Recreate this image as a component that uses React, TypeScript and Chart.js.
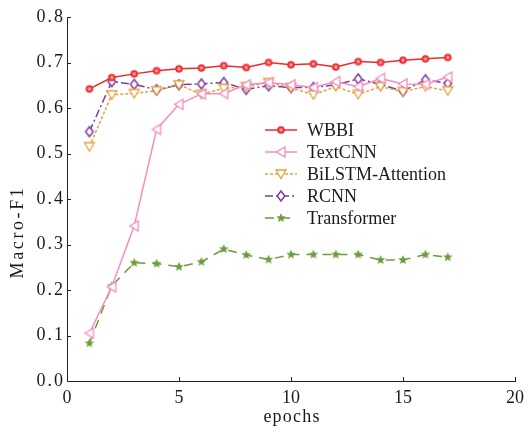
import React, { useEffect, useRef } from "react";
import { Chart, registerables } from "chart.js";

Chart.register(...registerables);

// Training curves: Macro-F1 per epoch for each model
const epochs = [1, 2, 3, 4, 5, 6, 7, 8, 9, 10, 11, 12, 13, 14, 15, 16, 17];
const wbbi = [0.642, 0.667, 0.675, 0.682, 0.686, 0.688, 0.693, 0.689, 0.7, 0.695, 0.697, 0.69, 0.702, 0.7, 0.705, 0.708, 0.711];
const textCnn = [0.105, 0.207, 0.341, 0.553, 0.608, 0.631, 0.632, 0.651, 0.656, 0.651, 0.645, 0.658, 0.647, 0.665, 0.653, 0.652, 0.668];
const bilstmAttention = [0.515, 0.629, 0.632, 0.638, 0.651, 0.63, 0.643, 0.647, 0.656, 0.645, 0.629, 0.647, 0.63, 0.647, 0.636, 0.647, 0.638];
const rcnn = [0.548, 0.658, 0.652, 0.64, 0.651, 0.653, 0.656, 0.641, 0.649, 0.645, 0.645, 0.651, 0.664, 0.652, 0.637, 0.662, 0.654];
const transformer = [0.083, 0.209, 0.26, 0.258, 0.251, 0.262, 0.29, 0.277, 0.267, 0.278, 0.278, 0.278, 0.278, 0.266, 0.266, 0.278, 0.272];

const seriesNames = ["WBBI", "TextCNN", "BiLSTM-Attention", "RCNN", "Transformer"];
const xTicks = [0, 5, 10, 15, 20];
const xTitle = "epochs";
const yTitle = "Macro-F1";

const FONT = "'Liberation Serif', 'Times New Roman', serif";
const TEXT = "#1a1a1a";

type MarkerKind = "hexCircle" | "triLeft" | "triDown" | "diamond" | "star";

function makeMarker(kind: MarkerKind, color: string): HTMLCanvasElement {
  const size = 14;
  const c = document.createElement("canvas");
  c.width = size;
  c.height = size;
  const ctx = c.getContext("2d")!;
  const m = size / 2;
  ctx.strokeStyle = color;
  ctx.fillStyle = color;
  ctx.lineWidth = 1.3;
  if (kind === "hexCircle") {
    ctx.beginPath();
    ctx.arc(m, m, 3.8, 0, Math.PI * 2);
    ctx.fill();
    ctx.strokeStyle = "rgba(255,200,200,0.9)";
    ctx.lineWidth = 0.8;
    for (let i = 0; i < 3; i++) {
      const a = (Math.PI / 3) * i + Math.PI / 2;
      ctx.beginPath();
      ctx.moveTo(m + Math.cos(a) * 2.2, m + Math.sin(a) * 2.2);
      ctx.lineTo(m - Math.cos(a) * 2.2, m - Math.sin(a) * 2.2);
      ctx.stroke();
    }
  } else if (kind === "triLeft") {
    ctx.beginPath();
    ctx.moveTo(m - 4.5, m);
    ctx.lineTo(m + 4, m - 5);
    ctx.lineTo(m + 4, m + 5);
    ctx.closePath();
    ctx.fillStyle = "#fff";
    ctx.fill();
    ctx.stroke();
  } else if (kind === "triDown") {
    ctx.beginPath();
    ctx.moveTo(m - 5, m - 4);
    ctx.lineTo(m + 5, m - 4);
    ctx.lineTo(m, m + 4.5);
    ctx.closePath();
    ctx.fillStyle = "#fff";
    ctx.fill();
    ctx.stroke();
  } else if (kind === "diamond") {
    ctx.beginPath();
    ctx.moveTo(m, m - 5);
    ctx.lineTo(m + 3.8, m);
    ctx.lineTo(m, m + 5);
    ctx.lineTo(m - 3.8, m);
    ctx.closePath();
    ctx.fillStyle = "#fff";
    ctx.fill();
    ctx.lineWidth = 1.5;
    ctx.stroke();
  } else {
    ctx.beginPath();
    for (let i = 0; i < 10; i++) {
      const r = i % 2 === 0 ? 5 : 2.2;
      const a = -Math.PI / 2 + (Math.PI / 5) * i;
      const px = m + Math.cos(a) * r;
      const py = m + Math.sin(a) * r;
      if (i === 0) ctx.moveTo(px, py);
      else ctx.lineTo(px, py);
    }
    ctx.closePath();
    ctx.fill();
  }
  return c;
}

// draw a scale's tick labels with a little extra letter spacing
function spacedLabels(scale: any, spacing: string) {
  if (scale.__spaced) return;
  scale.__spaced = true;
  const orig = scale.drawLabels.bind(scale);
  scale.drawLabels = (area: any) => {
    const ctx = scale.ctx as any;
    const prev = ctx.letterSpacing;
    ctx.letterSpacing = spacing;
    orig(area);
    ctx.letterSpacing = prev;
  };
}

export default function App() {
  const canvasRef = useRef<HTMLCanvasElement | null>(null);

  useEffect(() => {
    document.body.style.margin = "0";
    const canvas = canvasRef.current;
    if (!canvas) return;

    const styles = [
      { color: "#ec2b2f", dash: [] as number[], width: 1.5, marker: "hexCircle" as MarkerKind },
      { color: "#f48dc0", dash: [] as number[], width: 1.5, marker: "triLeft" as MarkerKind },
      { color: "#e3a23c", dash: [3, 2], width: 1.5, marker: "triDown" as MarkerKind },
      { color: "#7b3d9c", dash: [8, 3, 2, 3], width: 1.5, marker: "diamond" as MarkerKind },
      { color: "#6c9d3a", dash: [9, 7], width: 1.5, marker: "star" as MarkerKind },
    ];
    const values = [wbbi, textCnn, bilstmAttention, rcnn, transformer];

    const datasets = values.map((vals, i) => ({
      label: seriesNames[i],
      data: epochs.map((e, j) => ({ x: e, y: vals[j] })),
      borderColor: styles[i].color,
      backgroundColor: styles[i].color,
      borderWidth: styles[i].width,
      borderDash: styles[i].dash,
      pointStyle: makeMarker(styles[i].marker, styles[i].color),
      pointRadius: 5,
      tension: 0,
      fill: false,
    }));

    // inward tick marks on both axes
    const innerTicks = {
      id: "innerTicks",
      afterDraw(chart: any) {
        const { ctx, chartArea, scales } = chart;
        ctx.save();
        ctx.strokeStyle = "#222";
        ctx.lineWidth = 1;
        const ys = scales.y;
        for (let v = 0; v <= 8; v++) {
          const py = Math.round(ys.getPixelForValue(v / 10)) + 0.5;
          ctx.beginPath();
          ctx.moveTo(chartArea.left, py);
          ctx.lineTo(chartArea.left + 4, py);
          ctx.stroke();
        }
        const xs = scales.x;
        xTicks.forEach((t) => {
          const px = Math.round(xs.getPixelForValue(t)) + 0.5;
          ctx.beginPath();
          ctx.moveTo(px, chartArea.bottom);
          ctx.lineTo(px, chartArea.bottom - 4);
          ctx.stroke();
        });
        ctx.restore();
      },
    };

    // axis titles, slightly letter-spaced
    const axisTitles = {
      id: "axisTitles",
      afterDraw(chart: any) {
        const { ctx, chartArea } = chart;
        ctx.save();
        ctx.fillStyle = TEXT;
        ctx.font = `18px ${FONT}`;
        ctx.textAlign = "center";
        ctx.textBaseline = "middle";
        (ctx as any).letterSpacing = "1.2px";
        ctx.fillText(xTitle, (chartArea.left + chartArea.right) / 2 + 1, chartArea.bottom + 36);
        (ctx as any).letterSpacing = "2.6px";
        ctx.translate(18, chartArea.top + 215);
        ctx.rotate(-Math.PI / 2);
        ctx.fillText(yTitle, 0, 0);
        ctx.restore();
      },
    };

    // legend with line + marker samples inside the plot area
    const lineLegend = {
      id: "lineLegend",
      afterDraw(chart: any) {
        const { ctx, chartArea } = chart;
        const x0 = chartArea.left + 198;
        const y0 = chartArea.top + 113;
        const rowH = 22;
        ctx.save();
        chart.data.datasets.forEach((ds: any, i: number) => {
          const y = y0 + i * rowH;
          ctx.strokeStyle = ds.borderColor;
          ctx.lineWidth = ds.borderWidth;
          ctx.setLineDash(ds.borderDash || []);
          ctx.beginPath();
          ctx.moveTo(x0, y);
          ctx.lineTo(x0 + 32, y);
          ctx.stroke();
          ctx.setLineDash([]);
          const img = ds.pointStyle as HTMLCanvasElement;
          ctx.drawImage(img, x0 + 16 - img.width / 2, y - img.height / 2);
          ctx.fillStyle = TEXT;
          ctx.font = `18px ${FONT}`;
          ctx.textAlign = "left";
          ctx.textBaseline = "middle";
          ctx.fillText(ds.label, x0 + 42, y + 1);
        });
        ctx.restore();
      },
    };

    const chart = new Chart(canvas, {
      type: "line",
      data: { datasets },
      options: {
        animation: false,
        responsive: false,
        maintainAspectRatio: false,
        layout: { padding: { top: 17, right: 13, left: 0, bottom: 0 } },
        plugins: {
          legend: { display: false },
          tooltip: { enabled: false },
        },
        scales: {
          x: {
            type: "linear",
            min: 0,
            max: 20,
            afterFit(scale: any) {
              scale.height = 51;
            },
            afterBuildTicks(scale: any) {
              scale.ticks = xTicks.map((v) => ({ value: v }));
            },
            grid: { display: true, drawOnChartArea: false, drawTicks: false },
            border: { display: true, color: "#222", width: 1 },
            ticks: {
              padding: 6,
              color: TEXT,
              font: { family: FONT, size: 18 },
              maxRotation: 0,
            },
            title: { display: false },
          },
          y: {
            type: "linear",
            min: 0,
            max: 0.8,
            afterFit(scale: any) {
              scale.width = 67;
              spacedLabels(scale, "2px");
            },
            grid: { display: true, drawOnChartArea: false, drawTicks: false },
            border: { display: true, color: "#222", width: 1 },
            ticks: {
              stepSize: 0.1,
              padding: 2,
              color: TEXT,
              font: { family: FONT, size: 18 },
              callback: (v: any) => Number(v).toFixed(1),
            },
            title: { display: false },
          },
        },
      },
      plugins: [innerTicks, axisTitles, lineLegend],
    });

    return () => chart.destroy();
  }, []);

  return (
    <div style={{ position: "fixed", left: 0, top: 0, width: 530, height: 432, background: "#fff" }}>
      <canvas ref={canvasRef} width={530} height={432} style={{ width: 530, height: 432, display: "block" }} />
    </div>
  );
}
